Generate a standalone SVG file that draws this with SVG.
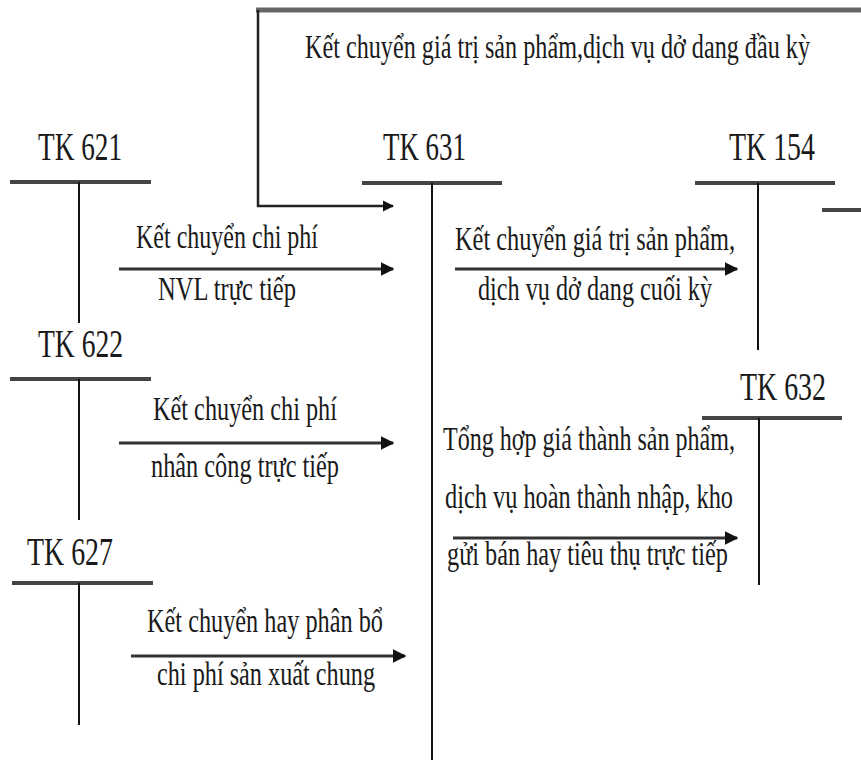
<svg xmlns="http://www.w3.org/2000/svg" width="861" height="760" viewBox="0 0 861 760">
  <defs>
    <marker id="arrow" viewBox="0 0 10 10" refX="9" refY="5" markerWidth="4.5" markerHeight="4.5" markerUnits="strokeWidth" orient="auto">
      <path d="M0,0 L10,5 L0,10 z" fill="#111"/>
    </marker>
    <style>
      .lbl { font-family: "Liberation Serif", "Times New Roman", serif; fill: #1a1a1a; }
      .tk { font-size: 41px; }
      .txt { font-size: 34px; }
      .bar { stroke: #444; stroke-width: 4; fill: none; }
      .stem { stroke: #111; stroke-width: 2; fill: none; }
      .flow { stroke: #333; stroke-width: 3; fill: none; marker-end: url(#arrow); }
      .edge { stroke: #222; stroke-width: 2.5; fill: none; }
      .top { stroke: #666; stroke-width: 5; fill: none; }
    </style>
  </defs>
  <rect width="861" height="760" fill="#fff"/>

  <!-- T-accounts -->
  <g id="tk621">
    <text class="lbl tk" x="38" y="160" textLength="84" lengthAdjust="spacingAndGlyphs">TK 621</text>
    <line class="bar" x1="10" y1="182" x2="151" y2="182"/>
    <line class="stem" x1="79" y1="182" x2="79" y2="323"/>
  </g>
  <g id="tk622">
    <text class="lbl tk" x="38" y="357" textLength="85" lengthAdjust="spacingAndGlyphs">TK 622</text>
    <line class="bar" x1="10" y1="379" x2="151" y2="379"/>
    <line class="stem" x1="79" y1="379" x2="79" y2="520"/>
  </g>
  <g id="tk627">
    <text class="lbl tk" x="27" y="565" textLength="86" lengthAdjust="spacingAndGlyphs">TK 627</text>
    <line class="bar" x1="12" y1="583" x2="153" y2="583"/>
    <line class="stem" x1="79" y1="583" x2="79" y2="725"/>
  </g>
  <g id="tk631">
    <text class="lbl tk" x="383" y="160" textLength="83" lengthAdjust="spacingAndGlyphs">TK 631</text>
    <line class="bar" x1="362" y1="183" x2="502" y2="183"/>
    <line class="stem" x1="432" y1="183" x2="432" y2="760"/>
  </g>
  <g id="tk154">
    <text class="lbl tk" x="729" y="160" textLength="86" lengthAdjust="spacingAndGlyphs">TK 154</text>
    <line class="bar" x1="695" y1="183" x2="835" y2="183"/>
    <line class="stem" x1="758" y1="183" x2="758" y2="350"/>
    <line class="bar" x1="822" y1="210" x2="861" y2="210"/>
  </g>
  <g id="tk632">
    <text class="lbl tk" x="740" y="400" textLength="86" lengthAdjust="spacingAndGlyphs">TK 632</text>
    <line class="bar" x1="702" y1="418" x2="842" y2="418"/>
    <line class="stem" x1="759" y1="418" x2="759" y2="585"/>
  </g>

  <!-- Connectors -->
  <g id="connectors">
    <line class="top" x1="256" y1="10" x2="861" y2="10"/>
    <polyline class="edge" points="258,10 258,206 393,206" marker-end="url(#arrow)"/>
    <line class="flow" x1="119" y1="269" x2="393" y2="269"/>
    <line class="flow" x1="119" y1="443" x2="393" y2="443"/>
    <line class="flow" x1="131" y1="656" x2="405" y2="656"/>
    <line class="flow" x1="455" y1="269" x2="737" y2="269"/>
    <line class="flow" x1="453" y1="538" x2="737" y2="538"/>
  </g>

  <!-- Connector labels -->
  <g id="labels">
    <text class="lbl txt" x="305" y="58" textLength="505" lengthAdjust="spacingAndGlyphs">Kết chuyển giá trị sản phẩm,dịch vụ dở dang đầu kỳ</text>
    <text class="lbl txt" x="136" y="248" textLength="182" lengthAdjust="spacingAndGlyphs">Kết chuyển chi phí</text>
    <text class="lbl txt" x="158" y="300" textLength="138" lengthAdjust="spacingAndGlyphs">NVL trực tiếp</text>
    <text class="lbl txt" x="153" y="420" textLength="184" lengthAdjust="spacingAndGlyphs">Kết chuyển chi phí</text>
    <text class="lbl txt" x="151" y="477" textLength="188" lengthAdjust="spacingAndGlyphs">nhân công trực tiếp</text>
    <text class="lbl txt" x="147" y="632" textLength="236" lengthAdjust="spacingAndGlyphs">Kết chuyển hay phân bổ</text>
    <text class="lbl txt" x="157" y="685" textLength="218" lengthAdjust="spacingAndGlyphs">chi phí sản xuất chung</text>
    <text class="lbl txt" x="455" y="250" textLength="280" lengthAdjust="spacingAndGlyphs">Kết chuyển giá trị sản phẩm,</text>
    <text class="lbl txt" x="478" y="300" textLength="234" lengthAdjust="spacingAndGlyphs">dịch vụ dở dang cuối kỳ</text>
    <text class="lbl txt" x="443" y="450" textLength="292" lengthAdjust="spacingAndGlyphs">Tổng hợp giá thành sản phẩm,</text>
    <text class="lbl txt" x="445" y="508" textLength="288" lengthAdjust="spacingAndGlyphs">dịch vụ hoàn thành nhập, kho</text>
    <text class="lbl txt" x="447" y="565" textLength="281" lengthAdjust="spacingAndGlyphs">gửi bán hay tiêu thụ trực tiếp</text>
  </g>
</svg>
